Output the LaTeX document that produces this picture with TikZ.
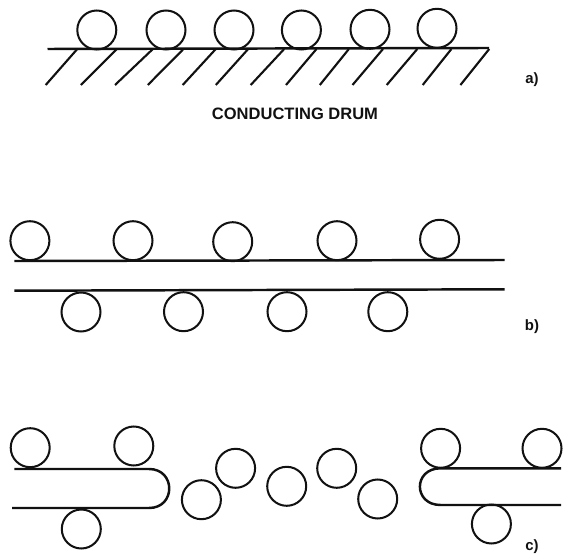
\documentclass[tikz,border=0pt]{standalone}
\usepackage{fontspec}
\setmainfont{Liberation Sans}
\usepackage{tikz}
\usetikzlibrary{positioning}
\tikzset{
    ball/.style={circle, draw=inkblack, line width=1.15pt, minimum width=0.76cm, minimum height=0.78cm, inner sep=0pt},
    sheet/.style={draw=inkblack, line width=1.4pt},
    tag/.style={font=\bfseries\fontsize{8.5}{10}\selectfont, text=inkblack}
}
\definecolor{inkblack}{HTML}{111111}

\begin{document}
\begin{tikzpicture}[x=0.02cm, y=-0.02cm]
    \useasboundingbox (0,0) rectangle (564,560);

    % Drum surface and its hatching
    \coordinate (drumL) at (47.5,49);
    \coordinate (drumR) at (489,48);
    \draw[sheet] (drumL) -- (drumR);
    \foreach \low/\high in {45.7/77.3, 80.9/116.9, 115/152.9, 147.8/183.5, 182.7/215.8, 215.8/248.2, 250.7/284.2, 286/316.5, 319.8/348.9, 352.5/383, 386.7/417.3, 422.7/451.4, 460.4/489.2}
        \draw[inkblack, line width=1.2pt] (\low,85) -- (\high,49);

    % Charges lying on the drum
    \foreach \n/\x/\y in {1/96.8/30, 2/166/30, 3/234/30, 4/301.4/30, 5/370/29.3, 6/437/28.3}
        \node[ball] (a\n) at (\x,\y) {};

    \node[font=\bfseries\fontsize{9.4}{11}\selectfont, text=inkblack] (drum) at (295,114) {CONDUCTING DRUM};
    \node[tag] (taga) at (532,80) {a)};

    % Lifted film with charges on both faces
    \coordinate (upL) at (14.4,261);
    \coordinate (upR) at (504.7,260);
    \coordinate (loL) at (14.4,290.7);
    \coordinate (loR) at (504.7,289.3);
    \draw[sheet] (upL) -- (upR);
    \draw[sheet] (loL) -- (loR);
    \foreach \n/\x/\y in {1/29.9/240.7, 2/133/240.7, 3/232.7/241.7, 4/337/240.7, 5/439.6/239.3}
        \node[ball] (bt\n) at (\x,\y) {};
    \foreach \n/\x/\y in {1/81/312, 2/183.5/311.7, 3/287/311.7, 4/387.8/311.7}
        \node[ball] (bb\n) at (\x,\y) {};
    \node[tag] (tagb) at (532,326.7) {b)};

    % Film ends curling back, loose charges in the gap
    \coordinate (cLa) at (14.4,469);
    \coordinate (cLb) at (149,469);
    \coordinate (cLc) at (149,508);
    \coordinate (cLd) at (12,508);
    \draw[sheet] (cLa) -- (cLb) .. controls (176,469) and (176,508) .. (cLc) -- (cLd);
    \coordinate (cRa) at (561,468.3);
    \coordinate (cRb) at (440.6,468.3);
    \coordinate (cRc) at (440.6,505);
    \coordinate (cRd) at (561,505);
    \draw[sheet] (cRa) -- (cRb) .. controls (413,468.3) and (413,505) .. (cRc) -- (cRd);
    \foreach \n/\x/\y in {1/30.2/447.7, 2/133.8/446, 3/81.3/529, 4/201.4/499.7, 5/235.6/468.3, 6/286.7/486.3, 7/336.7/468.3, 8/377.7/499, 9/440.6/448.3, 10/542/448.3, 11/491.4/524}
        \node[ball] (c\n) at (\x,\y) {};
    \node[tag] (tagc) at (532,547) {c)};
\end{tikzpicture}
\end{document}
